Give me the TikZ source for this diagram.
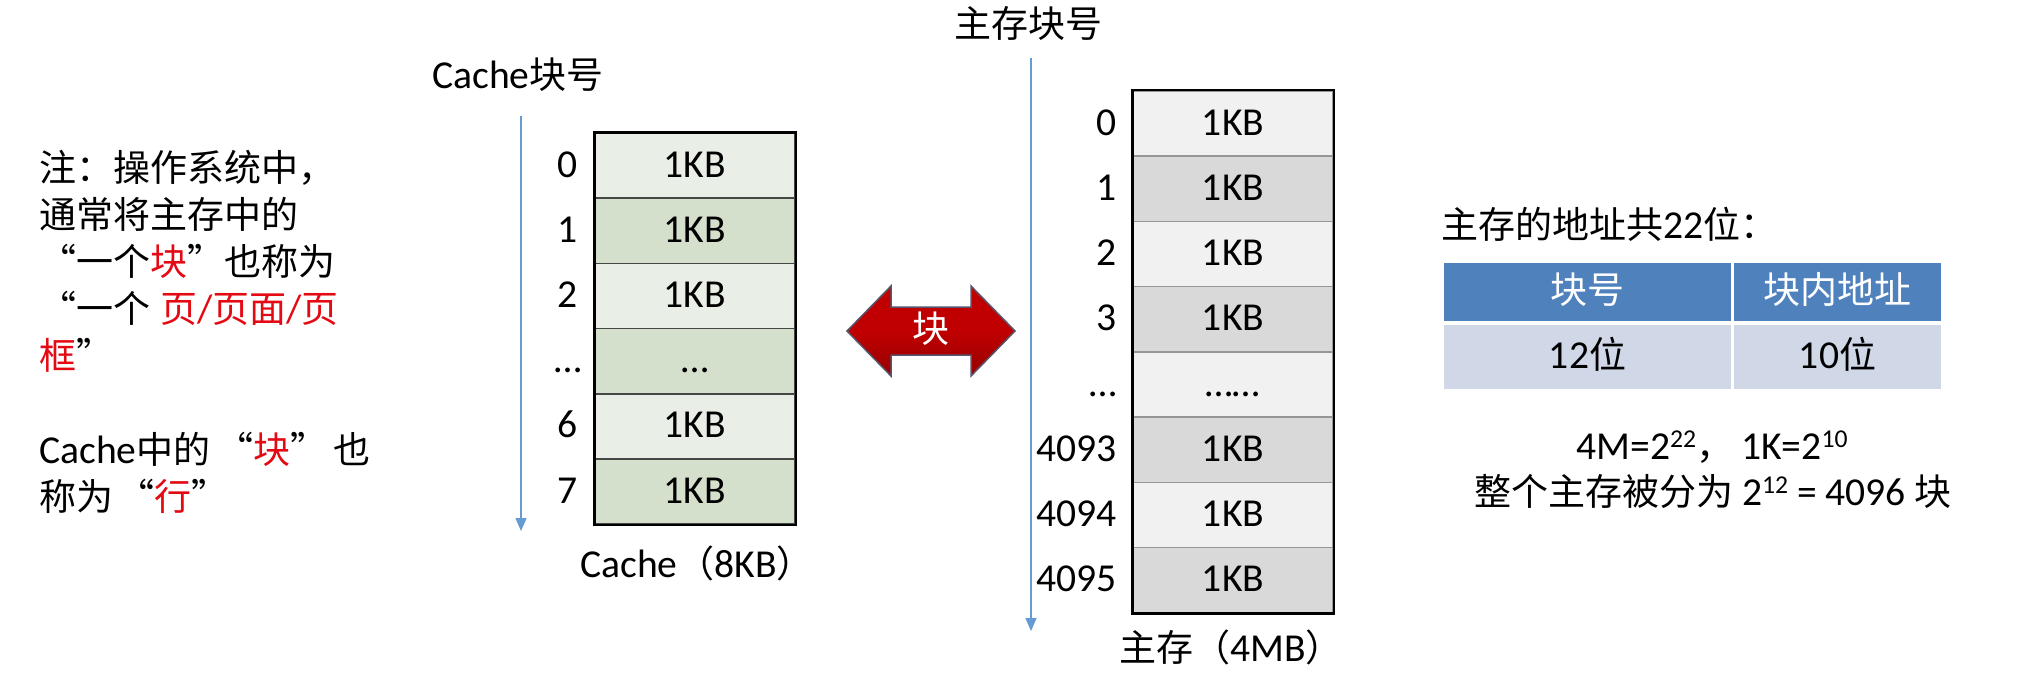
\documentclass[tikz,border=0pt]{standalone}
\usepackage{fontspec}
\setmainfont{Carlito}[Scale=1.07]
\newfontfamily\cjk[RawFeature=+fwid]{Noto Sans CJK SC}
\usetikzlibrary{arrows.meta}
\newcommand{\supnum}[1]{\raisebox{12pt}{\fontsize{24}{24}\selectfont #1}}
\definecolor{hl}{RGB}{228,10,20}
\definecolor{cgl}{RGB}{233,239,230}
\definecolor{cgd}{RGB}{212,224,204}
\definecolor{mgl}{RGB}{241,241,241}
\definecolor{mgd}{RGB}{217,217,217}
\definecolor{cline}{RGB}{70,70,70}
\definecolor{mline}{RGB}{150,150,150}
\definecolor{axblue}{RGB}{100,155,210}
\definecolor{thead}{RGB}{79,129,189}
\definecolor{trow}{RGB}{208,216,232}
\definecolor{arrred}{RGB}{192,0,0}
\definecolor{arrdark}{RGB}{150,0,0}
\tikzset{
  txt/.style={font=\fontsize{37}{44}\selectfont, inner sep=0pt, text height=30pt, text depth=7pt},
  cachecell/.style={txt, minimum width=200pt, minimum height=65.2pt, draw=cline, line width=1.5pt},
  memcell/.style={txt, minimum width=200pt, minimum height=65.25pt, draw=mline, line width=1.5pt},
  axis/.style={draw=axblue, line width=1.5pt, -{Triangle[length=13pt,width=11pt]}},
  hdrcell/.style={txt, fill=thead, text=white, minimum height=58pt},
  rowcell/.style={txt, fill=trow, minimum height=64pt}
}
\begin{document}
\begin{tikzpicture}[x=1pt,y=-1pt]
\useasboundingbox (0,0) rectangle (2018,672);
\fill[white] (0,0) rectangle (2018,672);

% left note
\node[txt, anchor=west] (t1) at (39,170) {\cjk 注：操作系统中，};
\node[txt, anchor=west] (t2) at (39,217) {\cjk 通常将主存中的};
\node[txt, anchor=west] (t3) at (39,264) {\cjk “一个\textcolor{hl}{块}”也称为};
\node[txt, anchor=west] (t4) at (39,311) {{\cjk “一个}\hspace{10pt}\textcolor{hl}{{\cjk 页}/{\cjk 页面}/{\cjk 页}}};
\node[txt, anchor=west] (t5) at (39,358) {\cjk \textcolor{hl}{框}”};
\node[txt, anchor=west] (t6) at (39,452) {Cache{\cjk 中的\hspace{6pt}“\textcolor{hl}{块}”\hspace{6pt}也}};
\node[txt, anchor=west] (t7) at (39,499) {\cjk 称为\hspace{4pt}“\textcolor{hl}{行}”};

% cache
\node[txt] (cachehdr) at (518,77) {Cache{\cjk 块号}};
\coordinate (ca1) at (521,116);
\coordinate (ca2) at (521,531);
\draw[axis] (ca1) -- (ca2);
\foreach \i/\n/\t/\c in {0/0/1KB/cgl,1/1/1KB/cgd,2/2/1KB/cgl,3/…/…/cgd,4/6/1KB/cgl,5/7/1KB/cgd}{
  \node[cachecell, fill=\c] (cc\i) at (695,{165.6+65.2*\i}) {\t};
  \node[txt] (cn\i) at (568,{165.6+65.2*\i}) {\n};
}
\draw[line width=2.5pt] (cc0.north west) rectangle (cc5.south east);
\node[txt] (cachelbl) at (697,566) {Cache{\cjk （}8KB{\cjk ）}};

% double arrow
\path[draw={rgb,255:red,85;green,85;blue,110}, line width=1.5pt, top color=arrred, bottom color=arrdark, middle color=arrred]
  (847,331) -- (891,286) -- (891,307) -- (971,307) -- (971,286) -- (1015,331)
  -- (971,376) -- (971,355) -- (891,355) -- (891,376) -- cycle;
\node[txt, text=white] (blk) at (931,331) {\cjk 块};

% main memory
\node[txt] (memhdr) at (1028,26) {\cjk 主存块号};
\coordinate (ma1) at (1031,58);
\coordinate (ma2) at (1031,631);
\draw[axis] (ma1) -- (ma2);
\foreach \i/\n/\t/\c in {0/0/1KB/mgl,1/1/1KB/mgd,2/2/1KB/mgl,3/3/1KB/mgd,4/…/……/mgl,5/4093/1KB/mgd,6/4094/1KB/mgl,7/4095/1KB/mgd}{
  \node[memcell, fill=\c] (mc\i) at (1233,{123.6+65.25*\i}) {\t};
  \node[txt, anchor=east] (mn\i) at (1117,{123.6+65.25*\i}) {\n};
}
\draw[line width=2.5pt] (mc0.north west) rectangle (mc7.south east);
\node[txt] (memlbl) at (1231,650) {{\cjk 主存（}4MB{\cjk ）}};

% right side
\node[txt, anchor=west] (addr) at (1441,227) {{\cjk 主存的地址共}22{\cjk 位：}};
\node[hdrcell, minimum width=287pt] (h1) at (1587.5,292) {\cjk 块号};
\node[hdrcell, minimum width=207pt] (h2) at (1837.5,292) {\cjk 块内地址};
\node[rowcell, minimum width=287pt] (r1) at (1587.5,357) {12{\cjk 位}};
\node[rowcell, minimum width=207pt] (r2) at (1837.5,357) {10{\cjk 位}};
\node[txt] (eq1) at (1712,448) {4M=2\supnum{22}{\cjk ，}\hspace{8pt}1K=2\supnum{10}};
\node[txt] (eq2) at (1713,494) {{\cjk 整个主存被分为} 2\supnum{12} = 4096 {\cjk 块}};
\end{tikzpicture}
\end{document}
